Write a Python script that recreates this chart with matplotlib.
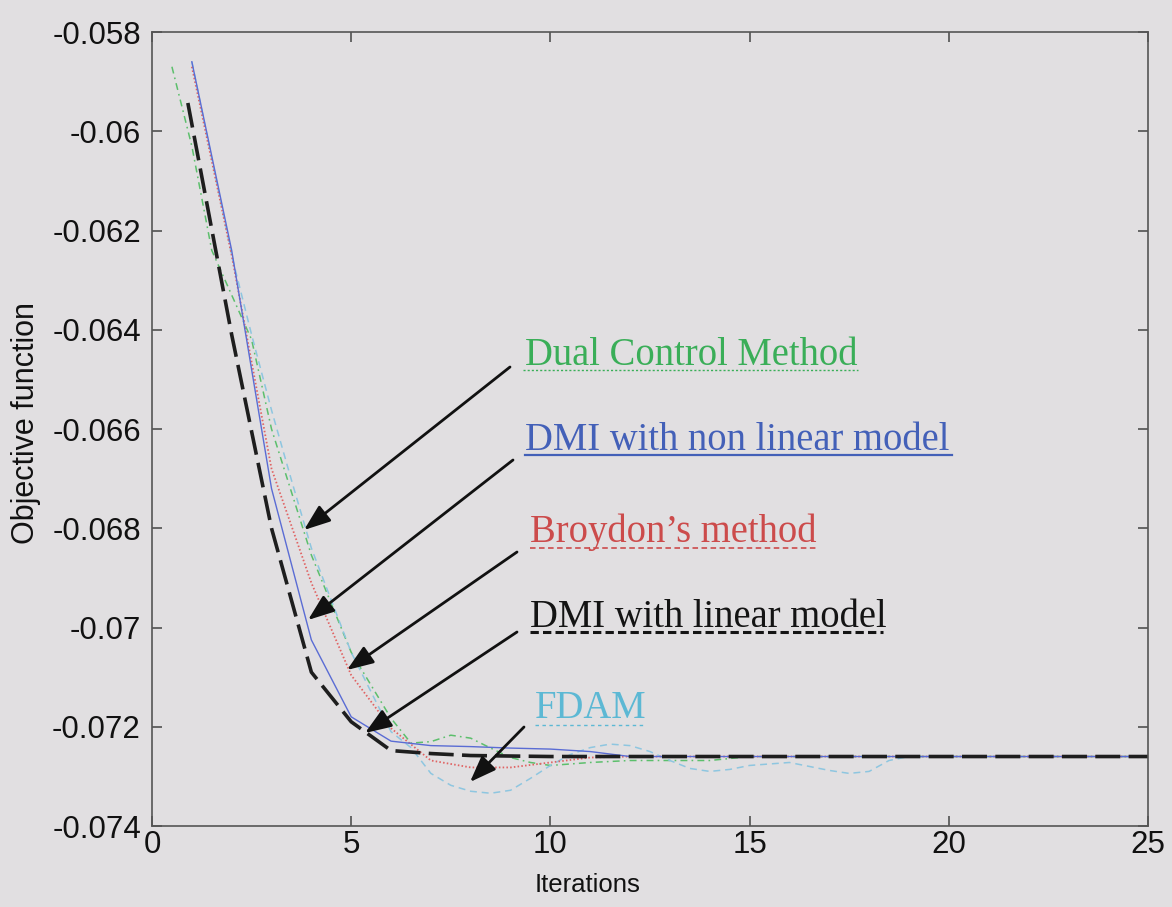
import matplotlib
matplotlib.use("Agg")
import matplotlib.pyplot as plt
from matplotlib import font_manager
from matplotlib.lines import Line2D

# ---------------- data ----------------
dual_x = [0.5, 1, 1.5, 2, 2.5, 3, 4, 5, 6, 6.5, 7, 7.5, 8, 8.5, 9, 9.5, 10, 11, 12, 13, 14, 15, 16, 20, 25]
dual_y = [-0.0587, -0.0603, -0.0624, -0.0633, -0.0642, -0.0660, -0.06854, -0.0705, -0.07183, -0.07233,
          -0.0723, -0.07217, -0.07223, -0.07243, -0.07262, -0.07272, -0.07278, -0.07272, -0.07268,
          -0.07268, -0.07268, -0.0726, -0.0726, -0.0726, -0.0726]

dmi_nl_x = [1, 2, 3, 4, 5, 6, 7, 8, 9, 10, 11, 12, 15, 20, 25]
dmi_nl_y = [-0.0586, -0.0624, -0.0672, -0.07025, -0.0718, -0.07229, -0.07238, -0.0724, -0.07243,
            -0.07245, -0.0725, -0.0726, -0.0726, -0.0726, -0.0726]

broyden_x = [1, 2, 3, 4, 5, 6, 7, 8, 9, 10, 11, 12, 15, 20, 25]
broyden_y = [-0.0587, -0.0625, -0.0668, -0.0691, -0.07096, -0.07203, -0.07268, -0.07282, -0.07282,
             -0.07272, -0.07262, -0.0726, -0.0726, -0.0726, -0.0726]

dmi_lin_x = [0.9, 2, 3, 4, 5, 6, 7, 8, 10, 15, 20, 25]
dmi_lin_y = [-0.05943, -0.0641, -0.0680, -0.0709, -0.0719, -0.07248, -0.07254, -0.07258, -0.0726,
             -0.0726, -0.0726, -0.0726]

fdam_x = [1, 2, 2.5, 3, 3.5, 4, 5, 6, 6.5, 7, 7.5, 8, 8.5, 9, 9.5, 10, 10.5, 11, 11.5, 12, 12.5,
          13, 13.5, 14, 14.5, 15, 16, 17, 17.5, 18, 18.5, 19, 20, 25]
fdam_y = [-0.0586, -0.0625, -0.0641, -0.06562, -0.06703, -0.0684, -0.0705, -0.0721, -0.07242,
          -0.07294, -0.07318, -0.0733, -0.07334, -0.07328, -0.07304, -0.07278, -0.07256, -0.07242,
          -0.07235, -0.07238, -0.0725, -0.07268, -0.07284, -0.0729, -0.07286, -0.07278, -0.07272,
          -0.07288, -0.07294, -0.0729, -0.07268, -0.0726, -0.0726, -0.0726]

labels = ["Dual Control Method", "DMI with non linear model", "Broydon\u2019s method",
          "DMI with linear model", "FDAM"]

xticks = [0, 5, 10, 15, 20, 25]
yticks = [-0.074, -0.072, -0.070, -0.068, -0.066, -0.064, -0.062, -0.060, -0.058]
ytick_labels = ["-0.074", "-0.072", "-0.07", "-0.068", "-0.066", "-0.064", "-0.062", "-0.06", "-0.058"]

# ---------------- style ----------------
plt.rcParams['lines.scale_dashes'] = False
names = {f.name for f in font_manager.fontManager.ttflist}
narrow = 'Liberation Sans Narrow' in names
sans = 'Liberation Sans Narrow' if narrow else 'Liberation Sans'
tick_size = 26 if narrow else 22.5
serif = 'Liberation Serif'

bg = '#e1dfe1'
W, H = 1172, 907
fig = plt.figure(figsize=(W / 100, H / 100), dpi=100, facecolor=bg)
ax = fig.add_axes([152 / W, 1 - 826 / H, 996 / W, 794 / H], facecolor=bg)

ax.plot(dual_x, dual_y, color='#5cbf6c', lw=1.1, dashes=(5, 3, 1.2, 3))
ax.plot(fdam_x, fdam_y, color='#8ec6e0', lw=1.1, dashes=(5, 3.5))
ax.plot(broyden_x, broyden_y, color='#e06262', lw=1.3, dashes=(1.1, 1.6))
ax.plot(dmi_nl_x, dmi_nl_y, color='#5a6cd4', lw=1.0)
ax.plot(dmi_lin_x, dmi_lin_y, color='#1e1e1e', lw=2.6, dashes=(18, 6))

ax.set_xlim(0, 25)
ax.set_ylim(-0.074, -0.058)
ax.set_xticks(xticks)
ax.set_xticklabels([str(t) for t in xticks])
ax.set_yticks(yticks)
ax.set_yticklabels(ytick_labels)
ax.tick_params(direction='in', length=7, width=1.1, top=True, right=True,
               labelsize=tick_size, color='#444444', labelcolor='#111111')
ax.tick_params(axis='y', pad=8)
ax.tick_params(axis='x', pad=3)
for lab in ax.get_xticklabels() + ax.get_yticklabels():
    lab.set_family(sans)
for s in ax.spines.values():
    s.set_color('#555555')
    s.set_linewidth(1.2)

ax.set_xlabel("Iterations", family=sans, fontsize=tick_size - 4, color='#111111')
ax.xaxis.set_label_coords((588 - 152) / 996, (826 - 885) / 794)
ax.xaxis.label.set_va('center')
ax.set_ylabel("Objective function", family=sans, fontsize=tick_size - 0.5, color='#111111')
ax.yaxis.set_label_coords((26 - 152) / 996, (826 - 423) / 794)
ax.yaxis.label.set_va('center')

# ---------------- annotations ----------------
def px2data(px, py):
    return ((px - 152) / 996 * 25, -0.058 - (py - 32) / 794 * 0.016)

text_pos = [(525, 365), (525, 450), (530, 542), (530, 627), (535, 718)]
text_col = ['#3aae58', '#4360b8', '#cc4b4b', '#141414', '#5cb8d4']
underline = [((523, 858), 370, '#3aae58', 1.0, (1.5, 1.5)),
             ((525, 952), 455, '#4360b8', 1.6, None),
             ((530, 818), 548, '#cc4b4b', 1.2, (4, 2.5)),
             ((530, 883), 632, '#141414', 2.2, (6, 3)),
             ((535, 643), 725, '#5cb8d4', 1.0, (2.5, 2.5))]
for lab, (px, py), c in zip(labels, text_pos, text_col):
    fig.text(px / W, 1 - py / H, lab, family=serif, fontsize=27.8, color=c,
             ha='left', va='baseline')
for (x0, x1), py, c, lw, ds in underline:
    ln = Line2D([x0 / W, x1 / W], [1 - py / H, 1 - py / H], transform=fig.transFigure,
                color=c, lw=lw)
    if ds is not None:
        ln.set_dashes(ds)
    fig.add_artist(ln)

arrows = [((510, 367), (304, 530)),
          ((513, 460), (308, 620)),
          ((517, 552), (347, 670)),
          ((517, 632), (365, 733)),
          ((524, 727), (470, 782))]
for (s, t) in arrows:
    ax.annotate("", xy=px2data(*t), xytext=px2data(*s),
                arrowprops=dict(arrowstyle='-|>,head_length=0.8,head_width=0.3',
                                lw=2.0, color='#111111', shrinkA=0, shrinkB=0,
                                mutation_scale=20))

fig.savefig("out.png", dpi=100, facecolor=bg)
